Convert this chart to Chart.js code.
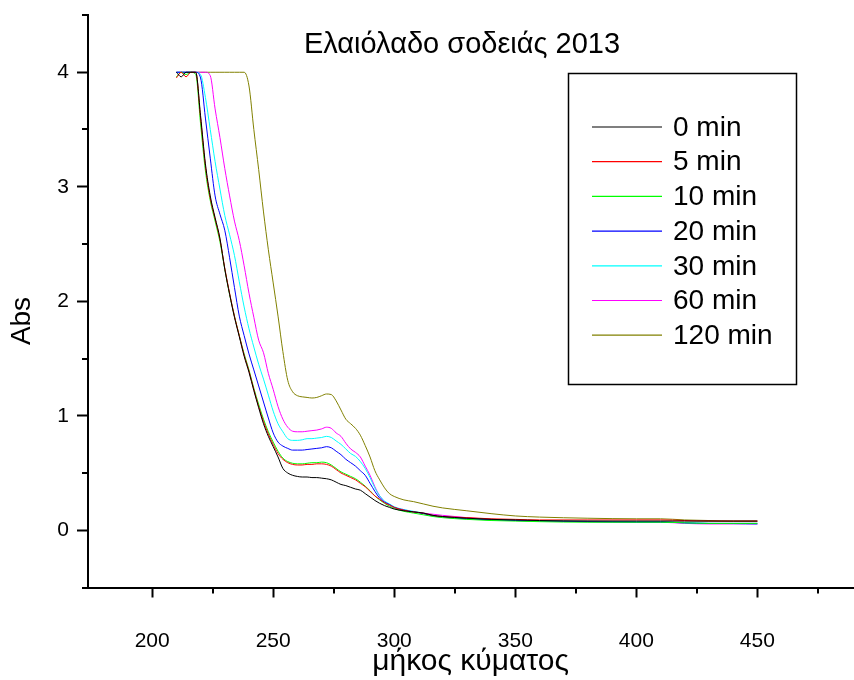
<!DOCTYPE html>
<html><head><meta charset="utf-8">
<script src="https://cdn.jsdelivr.net/npm/chart.js@4.4.1/dist/chart.umd.min.js"></script>
<style>html,body{margin:0;padding:0;background:#fff}#wrap{width:854px;height:680px}</style>
</head><body><div id="wrap"><canvas id="c" width="854" height="680"></canvas></div>
<script>
const chartTitle = 'Ελαιόλαδο σοδειάς 2013';
const xTitle = 'μήκος κύματος';
const yTitle = 'Abs';
const seriesNames = ['0 min','5 min','10 min','20 min','30 min','60 min','120 min'];
const seriesColors = ['#000000','#ff0000','#00ff00','#0000ff','#00ffff','#ff00ff','#808000'];
const xMajorTicks = [200,250,300,350,400,450];
const xMinorTicks = [225,275,325,375,425,475];
const yMajorTicks = [0,1,2,3,4];
const yMinorTicks = [-0.5,0.5,1.5,2.5,3.5,4.5];

const wavelengths = [210,212,214,216,218,220,222,224,226,228,230,232,234,236,238,240,242,244,246,248,250,252,254,256,258,260,262,264,266,268,270,272,274,276,278,280,282,284,286,288,290,292,294,296,298,300,304,308,312,316,320,330,340,350,360,380,400,410,420,430,440,450];

const abs0 = [4.0,3.96,4.0,4.0,4.0, 3.62,3.20,2.92,2.73,2.55, 2.28,2.06,1.86,1.69,1.52, 1.38,1.22,1.07,0.93,0.82, 0.73,0.64,0.54,0.50,0.48, 0.47,0.465,0.465,0.46,0.46, 0.455,0.45,0.44,0.42,0.40, 0.39,0.375,0.36,0.35,0.32, 0.29,0.26,0.235,0.215,0.20, 0.185,0.17,0.16,0.15,0.13, 0.12,0.105,0.095,0.09,0.085, 0.08,0.08,0.08,0.08,0.08,0.08,0.08];
const abs5 = [3.95,4.0,3.96,4.0,4.0, 3.60,3.18,2.90,2.72,2.54, 2.29,2.07,1.87,1.70,1.53, 1.39,1.23,1.08,0.95,0.84, 0.75,0.67,0.62,0.59,0.575, 0.57,0.57,0.575,0.575,0.58, 0.58,0.575,0.56,0.53,0.50, 0.48,0.46,0.44,0.41,0.38, 0.34,0.30,0.27,0.24,0.22, 0.20,0.175,0.16,0.15,0.13, 0.12,0.11,0.10,0.095,0.09, 0.09,0.09,0.09,0.085,0.08,0.08,0.08];
const abs10 = [3.96,4.0,3.98,4.0,3.98, 3.55,3.14,2.88,2.70,2.52, 2.28,2.06,1.87,1.70,1.54, 1.40,1.24,1.10,0.97,0.86, 0.77,0.69,0.63,0.60,0.585, 0.58,0.58,0.585,0.59,0.59, 0.595,0.59,0.57,0.54,0.51, 0.49,0.47,0.45,0.42,0.385, 0.345,0.30,0.265,0.235,0.21, 0.19,0.165,0.15,0.135,0.12, 0.11,0.095,0.085,0.08,0.075, 0.07,0.07,0.07,0.065,0.06,0.06,0.06];
const abs20 = [4.0,4.0,4.0,4.0,4.0, 3.95,3.60,3.25,2.92,2.76, 2.62,2.38,2.12,1.87,1.70, 1.54,1.40,1.26,1.12,0.98, 0.85,0.77,0.735,0.715,0.70, 0.70,0.70,0.705,0.71,0.715, 0.72,0.73,0.72,0.69,0.66, 0.62,0.59,0.56,0.52,0.48, 0.41,0.34,0.28,0.245,0.225, 0.20,0.175,0.16,0.145,0.125, 0.115,0.10,0.09,0.085,0.08, 0.075,0.07,0.07,0.065,0.06,0.06,0.06];
const abs30 = [4.0,4.0,4.0,4.0,4.0, 3.98,3.78,3.50,3.22,2.98, 2.75,2.58,2.40,2.17,1.95, 1.76,1.60,1.45,1.32,1.18, 1.04,0.93,0.86,0.80,0.785, 0.785,0.79,0.80,0.80,0.805, 0.81,0.82,0.81,0.78,0.75, 0.71,0.67,0.645,0.60,0.54, 0.46,0.37,0.30,0.255,0.23, 0.205,0.18,0.165,0.15,0.13, 0.12,0.105,0.095,0.09,0.085, 0.08,0.075,0.075,0.065,0.06,0.058,0.055];
const abs60 = [4.0,4.0,4.0,4.0,4.0, 4.0,4.0,3.97,3.68,3.43, 3.16,2.92,2.70,2.53,2.31, 2.07,1.86,1.66,1.55,1.37, 1.23,1.08,0.97,0.90,0.865, 0.86,0.86,0.865,0.87,0.875, 0.885,0.90,0.89,0.85,0.82, 0.76,0.71,0.68,0.64,0.56, 0.48,0.38,0.30,0.25,0.225, 0.20,0.18,0.16,0.15,0.14, 0.13,0.11,0.095,0.085,0.08, 0.075,0.07,0.07,0.06,0.055,0.055,0.05];
const abs120 = [4.0,4.0,4.0,4.0,4.0, 4.0,4.0,4.0,4.0,4.0, 4.0,4.0,4.0,4.0,4.0, 3.88,3.50,3.15,2.78,2.45, 2.16,1.87,1.56,1.31,1.21, 1.175,1.165,1.16,1.155,1.16, 1.175,1.19,1.185,1.13,1.05, 0.97,0.93,0.89,0.83,0.74, 0.64,0.52,0.44,0.37,0.32, 0.295,0.265,0.25,0.23,0.21, 0.195,0.17,0.145,0.125,0.115, 0.105,0.10,0.10,0.09,0.085,0.08,0.08];

const allSeries = [abs0,abs5,abs10,abs20,abs30,abs60,abs120];
const FONT = '"Liberation Sans", Arial, sans-serif';

const datasets = allSeries.map((vals,i)=>({
  label: seriesNames[i],
  data: wavelengths.map((w,j)=>({x:w,y:vals[j]})),
  borderColor: seriesColors[i],
  backgroundColor: seriesColors[i],
  borderWidth: 1,
  pointRadius: 0,
  fill: false,
  cubicInterpolationMode: 'monotone'
}));

const decor = {
  id: 'decor',
  afterDraw(chart){
    const ctx = chart.ctx, xs = chart.scales.x, ys = chart.scales.y, ca = chart.chartArea;
    ctx.save();
    ctx.strokeStyle = '#000'; ctx.lineWidth = 2;
    xMinorTicks.forEach(v=>{const p=Math.round(xs.getPixelForValue(v));ctx.beginPath();ctx.moveTo(p,ca.bottom);ctx.lineTo(p,ca.bottom+6);ctx.stroke();});
    yMinorTicks.forEach(v=>{const p=Math.round(ys.getPixelForValue(v));ctx.beginPath();ctx.moveTo(ca.left,p);ctx.lineTo(ca.left-6,p);ctx.stroke();});
    ctx.fillStyle = '#000';
    ctx.font = '29px ' + FONT;
    ctx.textAlign = 'center'; ctx.textBaseline = 'middle';
    ctx.fillText(chartTitle, 462, 45);
    ctx.save();
    ctx.translate(22, 321); ctx.rotate(-Math.PI/2);
    ctx.font = '28px ' + FONT;
    ctx.fillText(yTitle, 0, 0);
    ctx.restore();
    ctx.lineWidth = 1.5;
    ctx.strokeRect(568.5, 73.5, 228, 311);
    ctx.font = '28px ' + FONT;
    ctx.textAlign = 'left';
    seriesNames.forEach((n,i)=>{
      const y = 127 + i*34.7;
      ctx.strokeStyle = seriesColors[i]; ctx.lineWidth = 1.2;
      ctx.beginPath(); ctx.moveTo(592, y); ctx.lineTo(662, y); ctx.stroke();
      ctx.fillStyle = '#000';
      ctx.fillText(n, 673, y+1);
    });
    ctx.restore();
  }
};

new Chart(document.getElementById('c'), {
  type: 'line',
  data: { datasets },
  options: {
    responsive: false, animation: false, devicePixelRatio: 1,
    layout: { padding: { top: 15, right: 1, left: 0, bottom: 0 } },
    plugins: { legend: { display: false }, tooltip: { enabled: false }, title: { display: false } },
    scales: {
      x: {
        type: 'linear', min: 173.5, max: 489.5,
        afterBuildTicks: s => { s.ticks = xMajorTicks.map(v=>({value:v})); },
        afterFit: s => { s.height = 92.5; s.paddingLeft = 0; s.paddingRight = 0; },
        ticks: { font: { size: 21, family: FONT }, color: '#000', padding: 31, maxRotation: 0, autoSkip: false },
        grid: { display: true, drawOnChartArea: false, drawTicks: true, tickLength: 10, tickWidth: 2, tickColor: '#000' },
        border: { display: true, width: 2, color: '#000' },
        title: { display: true, text: xTitle, font: { size: 30, family: FONT }, color: '#000', padding: { top: 0, bottom: 0 } }
      },
      y: {
        type: 'linear', min: -0.5, max: 4.5,
        afterBuildTicks: s => { s.ticks = yMajorTicks.map(v=>({value:v})); },
        afterFit: s => { s.width = 88; s.paddingTop = 0; s.paddingBottom = 0; },
        ticks: { font: { size: 21, family: FONT }, color: '#000', padding: 8 },
        grid: { display: true, drawOnChartArea: false, drawTicks: true, tickLength: 11, tickWidth: 2, tickColor: '#000' },
        border: { display: true, width: 2, color: '#000' }
      }
    }
  },
  plugins: [decor]
});
</script></body></html>
